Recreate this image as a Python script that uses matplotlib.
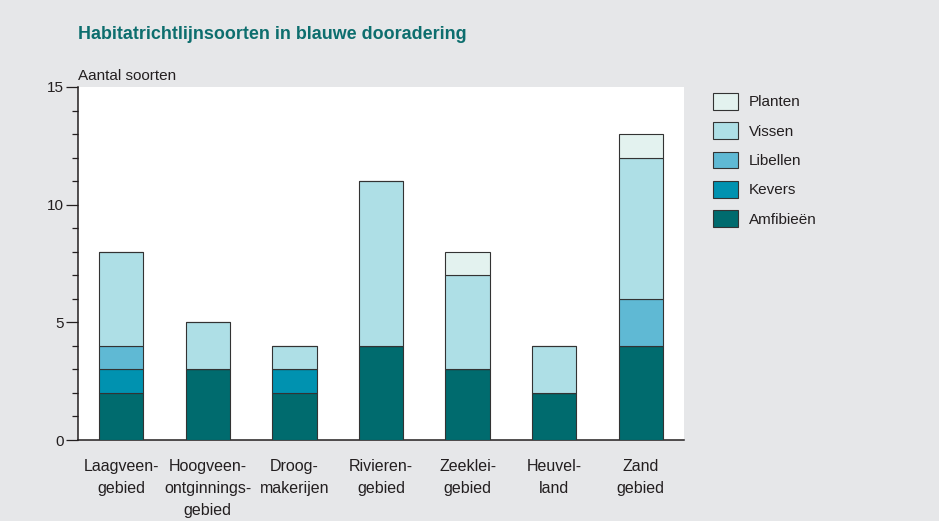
import matplotlib
matplotlib.use("Agg")
import matplotlib.pyplot as plt
import numpy as np

categories = ["Laagveen-\ngebied", "Hoogveen-\nontginnings-\ngebied", "Droog-\nmakerijen",
              "Rivieren-\ngebied", "Zeeklei-\ngebied", "Heuvel-\nland", "Zand\ngebied"]
series_names = ["Amfibieën", "Kevers", "Libellen", "Vissen", "Planten"]
amfibieen = [2, 3, 2, 4, 3, 2, 4]
kevers    = [1, 0, 1, 0, 0, 0, 0]
libellen  = [1, 0, 0, 0, 0, 0, 2]
vissen    = [4, 2, 1, 7, 4, 2, 6]
planten   = [0, 0, 0, 0, 1, 0, 1]
series_values = [amfibieen, kevers, libellen, vissen, planten]
colors = ["#006b6e", "#0092b0", "#5fb9d4", "#aedfe6", "#e3f2ef"]

title = "Habitatrichtlijnsoorten in blauwe dooradering"
ylabel = "Aantal soorten"

plt.rcParams['font.family'] = ['Liberation Sans', 'DejaVu Sans']

fig = plt.figure(figsize=(9.39, 5.21), dpi=100, facecolor="#e6e7e9")
ax = fig.add_axes([78/939, 81/521, 606/939, 353/521])
ax.set_facecolor("white")

x = np.arange(len(categories))
bottom = np.zeros(len(categories))
handles = []
for name, vals, c in zip(series_names, series_values, colors):
    b = ax.bar(x, vals, width=0.51, bottom=bottom, color=c, edgecolor="#333333",
               linewidth=0.8, label=name, zorder=3)
    handles.append(b)
    bottom += np.array(vals)

ax.set_xlim(-0.5, 6.5)
ax.set_ylim(0, 15)
ax.set_yticks([0, 5, 10, 15])
ax.set_yticks(np.arange(0, 16, 1), minor=True)
ax.tick_params(axis='y', which='major', length=9, width=0.9, color="#231f20",
               labelsize=11, pad=1, labelcolor="#231f20")
ax.tick_params(axis='y', which='minor', length=4.5, width=0.9, color="#231f20")
ax.set_xticks(x)
ax.set_xticklabels(categories, fontsize=11.5, linespacing=1.58,
                   family=['Liberation Sans Narrow', 'Liberation Sans'], color="#231f20")
ax.tick_params(axis='x', length=0, pad=14)

for s in ["top", "right"]:
    ax.spines[s].set_visible(False)
for s in ["left", "bottom"]:
    ax.spines[s].set_linewidth(1.1)
    ax.spines[s].set_color("#231f20")

ax.annotate(ylabel, xy=(0, 1), xycoords="axes fraction", xytext=(0, 5),
            textcoords="offset points", ha="left", va="baseline", fontsize=11,
            color="#231f20")

fig.text(78/939, (521-39)/521, title, fontsize=12.9, fontweight="bold",
         color="#0d6e6e", ha="left", va="baseline")

leg = fig.legend(handles[::-1], series_names[::-1], loc="upper left",
                 bbox_to_anchor=(713/939, (521-93)/521), frameon=False,
                 fontsize=11, handlelength=1.65, handleheight=1.3,
                 labelspacing=0.83, handletextpad=0.7, borderpad=0,
                 borderaxespad=0)
for t in leg.get_texts():
    t.set_color("#231f20")

fig.savefig("out.png", dpi=100, facecolor=fig.get_facecolor())
